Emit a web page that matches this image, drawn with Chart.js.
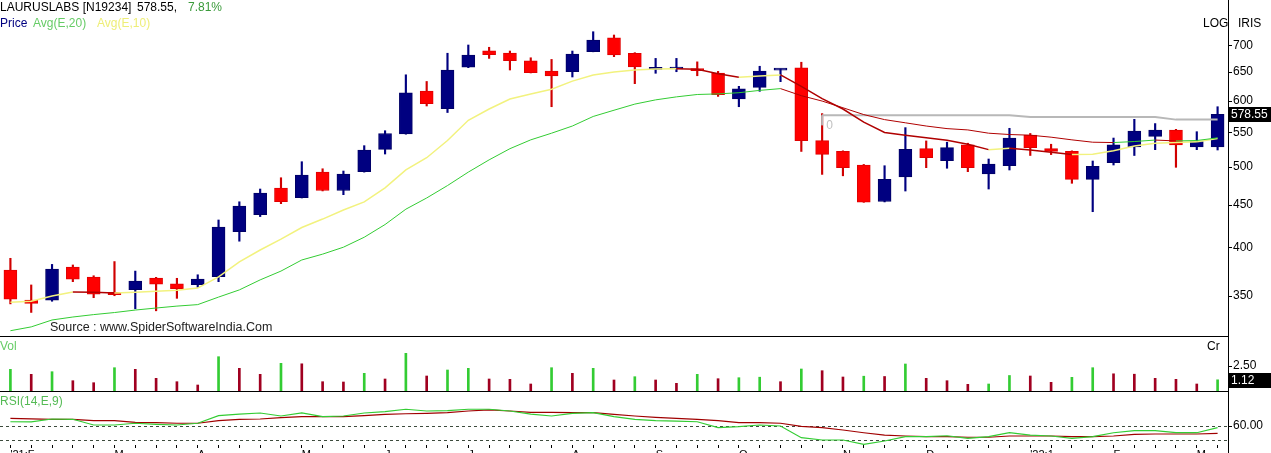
<!DOCTYPE html>
<html>
<head>
<meta charset="utf-8">
<script src="https://cdn.jsdelivr.net/npm/chart.js@4.4.0/dist/chart.umd.min.js"></script>
<style>
  body { margin: 0; background: #fff; width: 1271px; height: 453px; overflow: hidden; position: relative;
         font-family: 'Liberation Sans', Arial, sans-serif; }
  canvas { position: absolute; left: 0; }
  .t { position: absolute; white-space: pre; font-size: 12px; line-height: 14px; color: #000; }
  .ln { position: absolute; background: #000; }
</style>
</head>
<body>
<canvas id="price" width="1271" height="336" style="top:0"></canvas>
<canvas id="vol" width="1271" height="54" style="top:337px"></canvas>
<canvas id="rsi" width="1271" height="61" style="top:392px"></canvas>

<div class="ln" style="left:0;top:336px;width:1228px;height:1px"></div>
<div class="ln" style="left:0;top:391px;width:1228px;height:1px"></div>
<div class="ln" style="left:1228px;top:0;width:1px;height:453px"></div>

<div class="t" style="left:0;top:0">LAURUSLABS [N19234]</div>
<div class="t" style="left:137px;top:0">578.55,</div>
<div class="t" style="left:188px;top:0;color:#3a9a3a">7.81%</div>
<div class="t" style="left:0;top:16px;color:#000080">Price</div>
<div class="t" style="left:33px;top:16px;color:#66cc66">Avg(E,20)</div>
<div class="t" style="left:97px;top:16px;color:#eeee77">Avg(E,10)</div>
<div class="t" style="left:1203px;top:16px">LOG</div>
<div class="t" style="left:1238px;top:16px">IRIS</div>
<div class="t" style="left:50px;top:320px;font-size:12.5px;color:#222">Source : www.SpiderSoftwareIndia.Com</div>
<div class="t" style="left:0;top:339px;color:#66cc66">Vol</div>
<div class="t" style="left:1207px;top:339px">Cr</div>
<div class="t" style="left:0;top:394px;color:#55bb55">RSI(14,E,9)</div>

<script>
// weekly candles, Feb 2021 .. Mar 2022
const opens  = [376.1, 346.2, 346, 379.2, 368.9, 353.7, 356.2, 367.9, 362, 361.2,
                369.2, 418.2, 438.3, 471.8, 459.4, 493.1, 468.6, 493.5, 525.1, 548,
                616.7, 587.6, 658.8, 689.6, 685.2, 670.8, 652, 650.7, 687.8, 714.8,
                684.8, 655, 655.6, 655.6, 648.4, 603.6, 623.2, 653.5, 657.6, 537.8,
                522, 502.8, 454.6, 486.6, 526.1, 508.8, 531.5, 490.4, 501.8, 546,
                526.1, 522, 483.3, 506, 528.5, 544.2, 553.8, 528.5, 528.5]
const highs  = [388.5, 360.9, 382, 381.4, 370.2, 385, 375, 368.6, 367.6, 371.2,
                431.9, 454.2, 470.5, 485.4, 507.4, 497.6, 494.5, 530.4, 552.8, 645.2,
                633.4, 684.8, 700.6, 696.2, 689, 676.3, 673.2, 689, 726.8, 720.2,
                685.9, 675.1, 675.1, 668.7, 651.3, 625, 660.6, 655.5, 668, 579.6,
                522.9, 503.6, 501.8, 557.5, 537.4, 535.5, 534, 511.2, 556.5, 548.6,
                532.5, 522.9, 508.4, 541.7, 570.5, 563.8, 554.9, 551.3, 590.7]
const lows   = [342.5, 334.5, 345, 364.2, 348.4, 350.3, 337.9, 336, 347.8, 358.5,
                364.2, 407.3, 436, 451.8, 459, 468, 463.2, 493, 518.3, 547.5,
                591.9, 581.3, 658, 675.1, 653.8, 648.5, 590.7, 641.3, 687.5, 678.3,
                629.6, 647.9, 650.7, 643.5, 607.8, 590.7, 616.4, 633.1, 522, 489.9,
                488, 453.5, 454, 467.9, 499.1, 498.3, 493.6, 470.5, 495.9, 516.2,
                517.5, 478, 441.9, 502.8, 516.2, 524.6, 499.6, 524.6, 524.1]
const closes = [347, 343, 377.2, 366.6, 351.7, 351.3, 364.9, 361.6, 357.2, 366.9,
                423.5, 448.8, 465.3, 454.2, 489, 468.6, 490.4, 524.1, 548.6, 613.9,
                595.7, 653.8, 681.5, 681.9, 670.8, 649.1, 643, 683.4, 710.3, 681.5,
                659.4, 655.5, 658.8, 652.6, 610.7, 620.5, 652, 654, 537.8, 517.8,
                499.1, 453.8, 483.3, 525.1, 513.1, 527.5, 499.1, 504.2, 541.7, 527.5,
                522, 483.3, 501.1, 531.5, 552.3, 553.8, 531.5, 536.6, 578.55]

const ema20 = [318, 321.4, 327.6, 330.3, 332.5, 334.4, 336.7, 338.6, 340.4, 341.8,
               349, 356, 366, 375, 386.7, 393, 400.6, 411.8, 426.5, 445,
               459, 475, 493, 510, 526, 539, 549, 560, 575, 585,
               595, 602, 607, 611, 612, 614, 618, 621, 609, 600,
               589, 578, 570, 565, 560, 556, 554, 549, 547, 546,
               543, 539, 535.5, 535, 536.5, 538.7, 537.4, 538, 542]
const ema10 = [344, 345, 350, 354, 353.7, 353, 353.7, 354.7, 355.7, 357.8,
               369, 384.6, 397.5, 409.7, 423, 433, 444, 454, 472, 496,
               513, 538, 569, 587, 603.5, 612, 620, 634, 645, 650,
               653.8, 655.5, 656, 655.3, 647, 641, 643, 645, 625, 604,
               587, 566, 550, 546, 542, 538.5, 532.5, 524.6, 526.6, 524,
               521, 517.7, 518, 522.9, 530, 534, 535, 536, 541]

// grey level line, starts at week 40
const levelStart = 39
const levelLine = [577, 577, 577, 577, 577, 577, 577, 577, 577, 577,
                   574, 574, 574, 574, 574, 574, 574, 570, 570, 570]

const volumes = [2.17, 1.67, 1.93, 1.03, 0.83, 2.33, 2.17, 1.27, 0.93, 0.6,
                 3.43, 2.27, 1.67, 2.77, 2.72, 0.93, 0.9, 1.77, 1.2, 3.77,
                 1.5, 2.1, 2.27, 1.2, 1.17, 0.7, 2.33, 1.77, 2.27, 1.1,
                 1.43, 1.1, 0.77, 1.67, 1.23, 1.33, 1.38, 0.93, 2.2, 2.03,
                 1.4, 1.48, 1.45, 2.7, 1.27, 1.03, 0.67, 0.7, 1.55, 1.5,
                 0.87, 1.37, 2.33, 1.72, 1.68, 1.27, 1.17, 0.7, 1.12]

const rsi = [66.1, 66, 70, 69.6, 61.4, 61.4, 63.9, 62.4, 61.4, 63.9,
             74.7, 77.1, 78.6, 74.3, 78.6, 73.3, 74.3, 78.6, 80.4, 83.9,
             81.4, 81.9, 83.9, 83.9, 81.4, 77.1, 74.3, 78.1, 79, 73.3,
             69.6, 67.6, 67.1, 66.1, 57.6, 59, 61.4, 60, 43.3, 40,
             40, 33.9, 38.6, 44.7, 44.7, 46.1, 42.4, 44.7, 50.4, 47.1,
             45.7, 42.4, 44.7, 50.4, 53.3, 53.3, 50.4, 50.4, 57.6]
const rsiSignal = [71, 70.3, 69.6, 69.6, 67.6, 67.6, 65.3, 64.7, 63.9, 63.9,
                   67.6, 69.6, 70, 71.9, 73.3, 73.3, 73.3, 74.7, 76.7, 77.5,
                   78.1, 79, 81.4, 82.9, 81.4, 79.6, 79.6, 79, 79, 76.7,
                   74.3, 72.4, 71, 69.6, 67.6, 64.7, 64.7, 63.9, 59.6, 57.6,
                   54.3, 50.4, 47.1, 45.7, 44.7, 44.7, 43.9, 43.9, 45.7, 45.7,
                   45.7, 44.7, 44.7, 45.7, 48.1, 48.6, 48.6, 48.6, 49.6]

const weeks = opens.map((_, i) => 'W' + (i + 1))
const monthIdx  = [0, 5, 9, 14, 18, 22, 27, 31, 35, 40, 44, 49, 53, 57]
const monthText = ["'21:F", "M", "A", "M", "J", "J", "A", "S", "O", "N", "D", "'22:1", "F", "M"]

const priceTicks = [350, 400, 450, 500, 550, 600, 650, 700]
const volTicks = [2.5]
const rsiTicks = [60]
const rsiLevels = [60, 40]

Chart.defaults.font.family = "'Liberation Sans', Arial, sans-serif"
Chart.defaults.font.size = 12
Chart.defaults.color = '#000'
Chart.defaults.animation = false
Chart.defaults.responsive = false
Chart.defaults.events = []
Chart.defaults.plugins.legend.display = false
Chart.defaults.plugins.tooltip.enabled = false

const UP = '#000080', DOWN = '#ff0000'
const isUp = i => closes[i] >= opens[i]

const hiddenX = {
  type: 'category', offset: true, display: false, grid: { display: false }
}

function rightAxis(extra) {
  return Object.assign({
    position: 'right',
    border: { display: false },
    grid: { drawOnChartArea: false, tickLength: 4, color: '#000' },
    ticks: { padding: 1, color: '#000', font: { size: 12 } },
    afterFit: s => { s.width = 43; s.paddingTop = 0; s.paddingBottom = 0 }
  }, extra)
}

const trend = (up, down) => ctx => ctx.p1.parsed.y < ctx.p0.parsed.y ? down : up

function valueBox(axisId, value, text) {
  return {
    id: 'box' + axisId,
    afterDraw(chart) {
      const y = chart.scales[axisId].getPixelForValue(value)
      const c = chart.ctx
      c.save()
      c.fillStyle = '#000'
      c.fillRect(1229, Math.round(y) - 7, 42, 15)
      c.fillStyle = '#fff'
      c.font = "12px 'Liberation Sans', Arial, sans-serif"
      c.textBaseline = 'middle'
      c.fillText(text, 1231, Math.round(y) + 1)
      c.restore()
    }
  }
}

const levelMark = {
  id: 'levelMark',
  afterDatasetsDraw(chart) {
    const x = chart.scales.x.getPixelForValue(levelStart)
    const ys = chart.scales.y
    const c = chart.ctx
    c.save()
    c.strokeStyle = '#b8b8b8'
    c.lineWidth = 2
    c.beginPath()
    c.moveTo(x, ys.getPixelForValue(levelLine[0]))
    c.lineTo(x, ys.getPixelForValue(561))
    c.stroke()
    c.fillStyle = '#c0c0c0'
    c.font = "12px 'Liberation Sans', Arial, sans-serif"
    c.textBaseline = 'top'
    c.fillText('0', x + 4, ys.getPixelForValue(levelLine[0]) + 4)
    c.restore()
  }
}

new Chart(document.getElementById('price'), {
  data: {
    labels: weeks,
    datasets: [
      {
        type: 'bar', order: 3, grouped: false, barThickness: 1.5,
        data: lows.map((l, i) => [l, highs[i]]),
        backgroundColor: weeks.map((_, i) => isUp(i) ? UP : '#d00000')
      },
      {
        type: 'bar', order: 2, grouped: false, barThickness: 13, minBarLength: 2,
        borderWidth: 1, borderSkipped: false,
        data: opens.map((o, i) => [o, closes[i]]),
        backgroundColor: weeks.map((_, i) => isUp(i) ? UP : DOWN),
        borderColor: weeks.map((_, i) => isUp(i) ? '#000066' : '#e00000')
      },
      {
        type: 'line', order: 1,
        data: weeks.map((_, i) => i < levelStart ? null : levelLine[i - levelStart]),
        borderColor: '#b8b8b8', borderWidth: 2, pointRadius: 0, spanGaps: false
      },
      {
        type: 'line', order: 0, data: ema20, borderWidth: 1, pointRadius: 0,
        borderColor: '#33cc33',
        segment: { borderColor: trend('#33cc33', '#b00000') }
      },
      {
        type: 'line', order: 0, data: ema10, borderWidth: 1.5, pointRadius: 0,
        borderColor: '#f2f27e',
        segment: { borderColor: trend('#f2f27e', '#b00000') }
      }
    ]
  },
  options: {
    layout: { padding: 0 },
    scales: {
      x: hiddenX,
      y: rightAxis({
        type: 'logarithmic', min: 313.4, max: 793.4,
        afterBuildTicks: s => { s.ticks = priceTicks.map(v => ({ value: v })) },
        ticks: { padding: 1, color: '#000', font: { size: 12 }, callback: v => String(v) }
      })
    }
  },
  plugins: [levelMark, valueBox('y', closes[closes.length - 1], closes[closes.length - 1].toFixed(2))]
})

new Chart(document.getElementById('vol'), {
  type: 'bar',
  data: {
    labels: weeks,
    datasets: [{
      data: volumes, barThickness: 2,
      backgroundColor: volumes.map((v, i) => i === 0 || v >= volumes[i - 1] ? '#33cc33' : '#a00020')
    }]
  },
  options: {
    layout: { padding: 0 },
    scales: {
      x: hiddenX,
      y: rightAxis({
        min: 0, max: 5.4,
        afterBuildTicks: s => { s.ticks = volTicks.map(v => ({ value: v })) },
        ticks: { padding: 1, color: '#000', font: { size: 12 }, callback: v => v.toFixed(2) }
      })
    }
  },
  plugins: [valueBox('y', volumes[volumes.length - 1], volumes[volumes.length - 1].toFixed(2))]
})

const rsiLevelLines = {
  id: 'rsiLevels',
  beforeDatasetsDraw(chart) {
    const { ctx: c, chartArea: a, scales } = chart
    c.save()
    c.strokeStyle = '#3c4a3c'
    c.lineWidth = 1
    c.setLineDash([3, 3])
    rsiLevels.forEach(v => {
      const y = Math.round(scales.y.getPixelForValue(v)) + 0.5
      c.beginPath()
      c.moveTo(a.left, y)
      c.lineTo(a.right, y)
      c.stroke()
    })
    c.restore()
  }
}

new Chart(document.getElementById('rsi'), {
  type: 'line',
  data: {
    labels: weeks,
    datasets: [
      { data: rsi, borderColor: '#33cc33', borderWidth: 1.2, pointRadius: 0 },
      { data: rsiSignal, borderColor: '#a00000', borderWidth: 1.2, pointRadius: 0 }
    ]
  },
  options: {
    layout: { padding: 0 },
    scales: {
      x: {
        type: 'category', offset: true,
        border: { display: false },
        grid: { drawOnChartArea: false, drawTicks: true, tickLength: 3, offset: false, color: '#000' },
        ticks: {
          autoSkip: false, maxRotation: 0, minRotation: 0, align: 'start', padding: 0,
          color: '#000', font: { size: 11 },
          callback: (v, i) => { const k = monthIdx.indexOf(i); return k < 0 ? '' : monthText[k] }
        },
        afterFit: s => { s.height = 8; s.paddingLeft = 0; s.paddingRight = 0 }
      },
      y: rightAxis({
        min: 32.86, max: 108.57,
        afterBuildTicks: s => { s.ticks = rsiTicks.map(v => ({ value: v })) },
        ticks: { padding: 1, color: '#000', font: { size: 12 }, callback: v => v.toFixed(2) }
      })
    }
  },
  plugins: [rsiLevelLines]
})
</script>
</body>
</html>
